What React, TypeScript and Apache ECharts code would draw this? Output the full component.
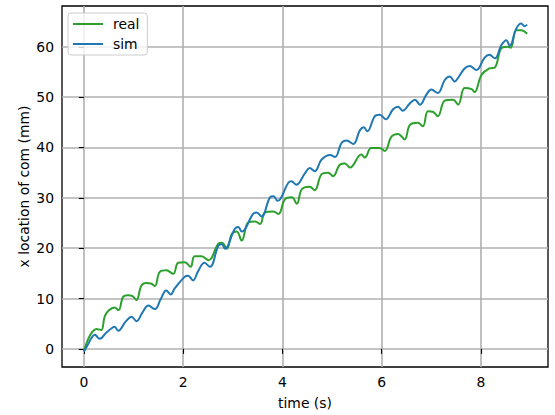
import React, { useEffect, useRef } from "react";
import * as echarts from "echarts";

const realT = [0, 0.08, 0.15, 0.25, 0.35, 0.42, 0.5, 0.62, 0.7, 0.79, 0.89, 0.98, 1.06, 1.16, 1.26, 1.35, 1.43, 1.53, 1.66, 1.8, 1.9, 2.03, 2.15, 2.23, 2.37, 2.51, 2.71, 2.78, 2.88, 2.98, 3.08, 3.18, 3.31, 3.45, 3.55, 3.65, 3.82, 3.92, 4.05, 4.19, 4.29, 4.39, 4.55, 4.65, 4.79, 4.92, 5.02, 5.16, 5.26, 5.36, 5.59, 5.66, 5.79, 5.96, 6.06, 6.2, 6.33, 6.46, 6.57, 6.73, 6.83, 6.93, 7.03, 7.13, 7.27, 7.44, 7.54, 7.67, 7.81, 7.87, 8.01, 8.17, 8.28, 8.41, 8.54, 8.6, 8.71, 8.81, 8.93];
const realV = [-0.5, 1.8, 3.1, 3.95, 3.75, 6.4, 7.6, 8.2, 7.7, 10.3, 10.66, 10.5, 9.7, 12.6, 13.1, 13.0, 12.5, 15.3, 15.6, 14.9, 17.1, 17.2, 16.3, 18.4, 18.4, 17.6, 20.9, 21.1, 19.9, 22.8, 23.3, 21.5, 25.1, 25.3, 24.8, 27.1, 27.3, 26.8, 29.7, 30.1, 28.8, 31.7, 32.2, 31.5, 34.7, 35.0, 34.3, 36.6, 36.8, 36.0, 38.6, 38.0, 39.9, 39.9, 39.3, 42.2, 42.7, 41.6, 44.5, 44.9, 44.2, 47.2, 47.1, 46.2, 49.3, 49.5, 48.5, 51.8, 51.6, 51.0, 54.4, 55.7, 55.9, 59.7, 60.0, 59.8, 63.3, 63.3, 62.6];

const simT = [0, 0.08, 0.15, 0.22, 0.32, 0.45, 0.56, 0.62, 0.69, 0.85, 0.96, 1.06, 1.18, 1.3, 1.43, 1.55, 1.66, 1.75, 1.83, 2.03, 2.1, 2.2, 2.3, 2.43, 2.54, 2.71, 2.78, 2.84, 3.04, 3.11, 3.18, 3.41, 3.48, 3.58, 3.75, 3.82, 3.9, 4.12, 4.18, 4.28, 4.45, 4.55, 4.65, 4.79, 4.96, 5.06, 5.19, 5.29, 5.43, 5.56, 5.64, 5.71, 5.86, 5.96, 6.08, 6.23, 6.33, 6.42, 6.57, 6.67, 6.77, 6.9, 7.0, 7.13, 7.27, 7.37, 7.47, 7.55, 7.67, 7.77, 7.91, 8.07, 8.17, 8.28, 8.41, 8.51, 8.58, 8.71, 8.81, 8.88, 8.93];
const simV = [-0.5, 0.8, 2.1, 2.8, 2.0, 3.2, 4.1, 4.4, 3.6, 5.5, 6.4, 5.5, 7.2, 8.6, 7.9, 9.9, 11.6, 10.8, 12.0, 14.3, 14.5, 13.6, 15.4, 17.1, 16.3, 20.5, 20.8, 19.9, 23.8, 24.2, 23.3, 26.8, 27.1, 26.3, 30.1, 30.3, 29.4, 33.0, 33.3, 32.6, 34.8, 35.9, 35.3, 37.6, 38.5, 38.1, 40.9, 41.4, 40.7, 43.4, 44.0, 43.2, 46.2, 46.5, 45.6, 47.6, 48.1, 47.3, 48.8, 49.5, 48.5, 50.5, 51.5, 50.8, 53.4, 54.1, 53.1, 54.0, 55.7, 56.2, 55.4, 57.8, 58.4, 57.7, 60.3, 61.3, 60.2, 63.6, 64.6, 64.1, 64.4];

const xTicks = [0, 2, 4, 6, 8];
const yTicks = [0, 10, 20, 30, 40, 50, 60];

const FONT = "DejaVu Sans";

export default function App() {
  const ref = useRef<HTMLDivElement>(null);
  useEffect(() => {
    if (!ref.current) return;
    const chart = echarts.init(ref.current, undefined, { renderer: "svg" });
    const pair = (t: number[], v: number[]) => t.map((x, i) => [x, v[i]]);
    chart.setOption({
      animation: false,
      backgroundColor: "#ffffff",
      textStyle: { fontFamily: FONT },
      grid: {
        left: 62,
        top: 6,
        right: 7,
        bottom: 46,
        show: true,
        borderColor: "#000000",
        borderWidth: 1.3,
        backgroundColor: "transparent",
      },
      legend: {
        orient: "vertical",
        left: 68,
        top: 13,
        padding: [4, 8, 4, 5],
        itemGap: 6,
        itemWidth: 30,
        itemHeight: 2,
        icon: "rect",
        borderColor: "#cccccc",
        borderWidth: 1,
        borderRadius: 3,
        backgroundColor: "rgba(255,255,255,0.8)",
        textStyle: { fontFamily: FONT, fontSize: 13.9, color: "#000", padding: [0, 0, 0, 5] },
        data: ["real", "sim"],
      },
      xAxis: {
        type: "value",
        min: -0.44,
        max: 9.35,
        name: "time (s)",
        nameLocation: "middle",
        nameGap: 29,
        nameMoveOverlap: false,
        nameTextStyle: { fontFamily: FONT, fontSize: 13.9, color: "#000" },
        axisLine: { show: false },
        axisTick: { show: true, length: 5, lineStyle: { color: "#000", width: 1.1 }, customValues: xTicks },
        axisLabel: { fontFamily: FONT, fontSize: 13.9, color: "#000", margin: 8, customValues: xTicks },
        splitLine: { show: true, lineStyle: { color: "#b0b0b0", width: 1.6 } },
      },
      yAxis: {
        type: "value",
        min: -3.6,
        max: 68.1,
        name: "x location of com (mm)",
        nameLocation: "middle",
        nameGap: 31,
        nameMoveOverlap: false,
        nameTextStyle: { fontFamily: FONT, fontSize: 13.9, color: "#000" },
        axisLine: { show: false },
        axisTick: { show: true, length: 5, lineStyle: { color: "#000", width: 1.1 }, customValues: yTicks },
        axisLabel: { fontFamily: FONT, fontSize: 13.9, color: "#000", margin: 8, customValues: yTicks },
        splitLine: { show: true, lineStyle: { color: "#b0b0b0", width: 1.6 } },
      },
      series: [
        {
          name: "real",
          type: "line",
          data: pair(realT, realV),
          showSymbol: false,
          smooth: 0.4,
          color: "#2ca02c",
          lineStyle: { color: "#2ca02c", width: 2 },
        },
        {
          name: "sim",
          type: "line",
          data: pair(simT, simV),
          showSymbol: false,
          smooth: 0.4,
          color: "#1f77b4",
          lineStyle: { color: "#1f77b4", width: 2 },
        },
      ],
    });
    return () => chart.dispose();
  }, []);
  return (
    <div
      ref={ref}
      style={{ position: "fixed", left: 0, top: 0, width: 555, height: 415 }}
    />
  );
}
